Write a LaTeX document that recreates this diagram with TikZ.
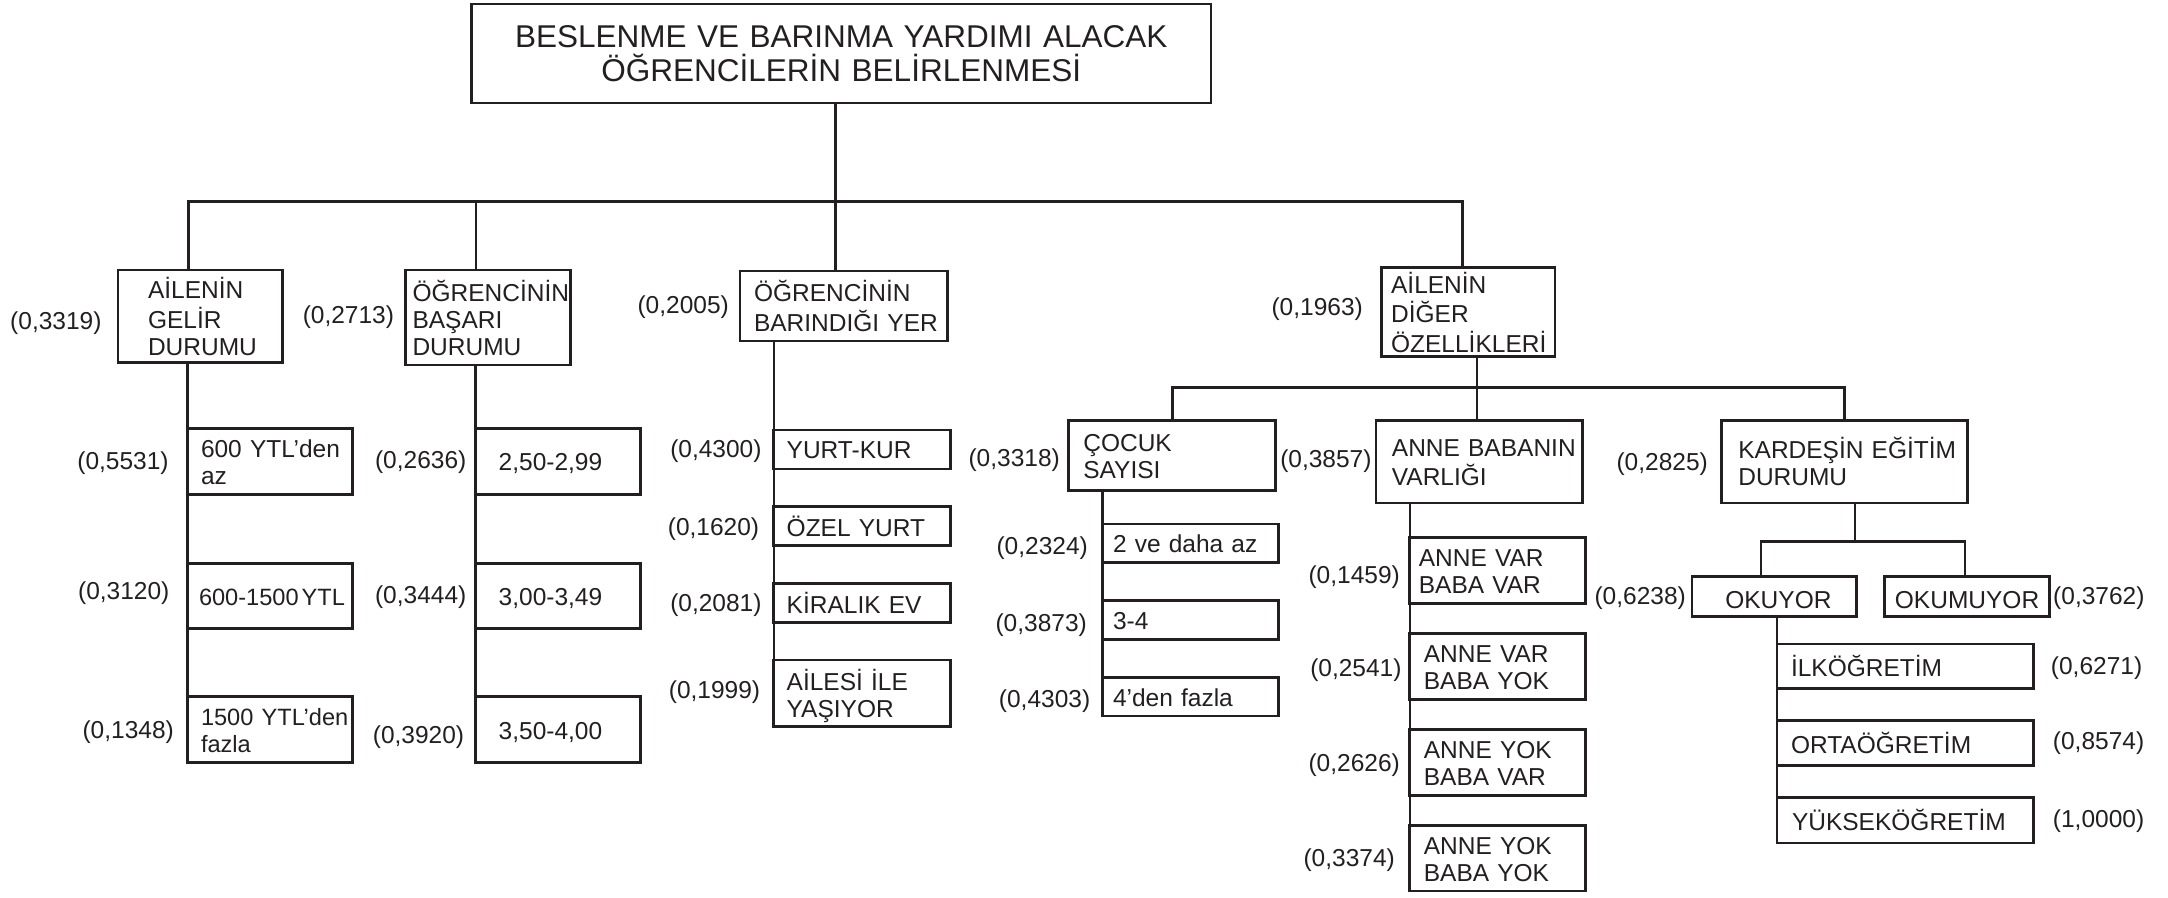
\documentclass[tikz,border=0pt]{standalone}
\usepackage{fontspec}
\setmainfont{Liberation Sans}
\definecolor{ink}{RGB}{35,31,32}
\newcommand\lblfont{\fontsize{24.5}{27}\selectfont}
\newcommand\smfont{\fontsize{23.6}{27}\selectfont}
\newcommand\ttlfont{\fontsize{31.5}{34}\selectfont}
\tikzset{
  box/.style={draw=ink, line width=2.8pt, rectangle, anchor=north west, inner ysep=0pt,
    outer sep=0pt, align=left, font=\lblfont, text=ink},
  lab/.style={inner sep=0pt, font=\lblfont, text=ink},
  conn/.style={draw=ink, line width=2.2pt},
  busl/.style={draw=ink, line width=3pt, line join=miter},
}
% \bx{name}{x}{y}{w}{h}{pad}{text}
\newcommand\bx[7]{\node[box, minimum width=#4pt, minimum height=#5pt, inner xsep=#6pt,
  text width=#4pt-2*#6pt] (#1) at (#2,#3)
  {\raisebox{-4pt}[\height][\depth]{\begin{tabular}{@{}l@{}}#7\end{tabular}}};}
\begin{document}
\begin{tikzpicture}[x=1pt,y=-1pt]
\useasboundingbox (0,0) rectangle (2168,897);

% title
\node[box, align=center, font=\ttlfont, minimum width=739.5pt, minimum height=99pt,
  text width=719.5pt, inner xsep=10pt] (title) at (471.5,4)
  {BESLENME VE BARINMA YARDIMI ALACAK\\ÖĞRENCİLERİN BELİRLENMESİ};

% level 1
\bx{gelir}{118}{270}{164.7}{92.7}{30}{AİLENİN\\GELİR\\DURUMU}
\bx{basari}{405.5}{270}{164.8}{95}{7}{ÖĞRENCİNİN\\BAŞARI\\DURUMU}
\bx{barin}{740}{271}{207.8}{70}{14}{ÖĞRENCİNİN\\BARINDIĞI YER}
\bx{diger}{1381.6}{267.7}{173.4}{89}{9.5}{AİLENİN\\DİĞER\\ÖZELLİKLERİ}

% gelir children
\bx{g1}{187.5}{428.3}{165.2}{66}{13.5}{600 YTL’den\\az}
\bx{g2}{187.5}{563.3}{165.2}{65}{11.5}{\smfont 600-1500\kern3pt YTL}
\bx{g3}{187.5}{696.7}{165.2}{66}{13.5}{\smfont 1500 YTL’den\\\smfont fazla}
% basari children
\bx{s1}{475.4}{428.3}{165.2}{66}{23.3}{2,50-2,99}
\bx{s2}{475.4}{563.3}{165.2}{65}{23.3}{3,00-3,49}
\bx{s3}{475.4}{696.7}{165.2}{66}{23.3}{3,50-4,00}
% barin children
\bx{r1}{773.7}{430}{176.5}{39}{13}{YURT-KUR}
\bx{r2}{773.7}{506.7}{176.5}{39}{13}{ÖZEL YURT}
\bx{r3}{773.7}{583.3}{176.5}{39}{13}{KİRALIK EV}
\bx{r4}{773.7}{660}{176.5}{66.7}{13}{AİLESİ İLE\\YAŞIYOR}

% diger children
\bx{cocuk}{1068.3}{420.7}{207.4}{70}{15}{ÇOCUK\\SAYISI}
\bx{anne}{1375.9}{420.7}{206.7}{82.3}{16}{ANNE BABANIN\\VARLIĞI}
\bx{kardes}{1721.3}{420.7}{246}{82.3}{17}{KARDEŞİN EĞİTİM\\DURUMU}

\bx{c1}{1102.4}{524}{176}{38.7}{10.6}{2 ve daha az}
\bx{c2}{1102.4}{600.7}{176}{38.6}{10.6}{3-4}
\bx{c3}{1102.4}{677.3}{176}{38.7}{10.6}{4’den fazla}

\bx{a1}{1409.8}{537.5}{175.7}{66}{9}{ANNE VAR\\BABA VAR}
\bx{a2}{1409.8}{633.7}{175.7}{66}{14}{ANNE VAR\\BABA YOK}
\bx{a3}{1409.8}{729.4}{175.7}{66}{14}{ANNE YOK\\BABA VAR}
\bx{a4}{1409.8}{825.5}{175.7}{65.5}{14}{ANNE YOK\\BABA YOK}

\node[box, align=center, minimum width=164.8pt, minimum height=40pt, text width=150pt,
  inner xsep=7.4pt] (okuyor) at (1692,576.7)
  {\raisebox{-3pt}[\height][\depth]{\hspace*{8pt}OKUYOR}};
\node[box, align=center, minimum width=165.5pt, minimum height=40pt, text width=155pt,
  inner xsep=5.25pt] (okumuyor) at (1884.3,576.7)
  {\raisebox{-3pt}[\height][\depth]{OKUMUYOR}};

\bx{k1}{1777}{644}{256.4}{44.7}{14}{İLKÖĞRETİM}
\bx{k2}{1777}{720.5}{256.4}{45.2}{14}{ORTAÖĞRETİM}
\bx{k3}{1777}{797.5}{256.4}{45.5}{15}{YÜKSEKÖĞRETİM}

% labels
\node[lab, anchor=east] (lgelir) at (101.7,323.3) {(0,3319)};
\node[lab, anchor=east] (lbasari) at (394.2,316.7) {(0,2713)};
\node[lab, anchor=east] (lbarin) at (729,306.7) {(0,2005)};
\node[lab, anchor=east] (ldiger) at (1363,309) {(0,1963)};

\node[lab, anchor=east] (lg1) at (168.8,463.3) {(0,5531)};
\node[lab, anchor=east] (lg2) at (169.6,593.3) {(0,3120)};
\node[lab, anchor=east] (lg3) at (174,731.7) {(0,1348)};
\node[lab, anchor=east] (ls1) at (466.5,461.7) {(0,2636)};
\node[lab, anchor=east] (ls2) at (466.5,596.7) {(0,3444)};
\node[lab, anchor=east] (ls3) at (464.3,736.7) {(0,3920)};
\node[lab, anchor=east] (lr1) at (761.7,451) {(0,4300)};
\node[lab, anchor=east] (lr2) at (759.3,529.3) {(0,1620)};
\node[lab, anchor=east] (lr3) at (761.7,605) {(0,2081)};
\node[lab, anchor=east] (lr4) at (760.3,691.7) {(0,1999)};

\node[lab, anchor=east] (lcocuk) at (1060,460) {(0,3318)};
\node[lab, anchor=east] (lanne) at (1371.7,461) {(0,3857)};
\node[lab, anchor=east] (lkardes) at (1708,464) {(0,2825)};
\node[lab, anchor=east] (lc1) at (1088,547.7) {(0,2324)};
\node[lab, anchor=east] (lc2) at (1087,625) {(0,3873)};
\node[lab, anchor=east] (lc3) at (1090.4,700.7) {(0,4303)};
\node[lab, anchor=east] (la1) at (1400,576.7) {(0,1459)};
\node[lab, anchor=east] (la2) at (1401.7,670) {(0,2541)};
\node[lab, anchor=east] (la3) at (1400,765) {(0,2626)};
\node[lab, anchor=east] (la4) at (1395,860) {(0,3374)};
\node[lab, anchor=east] (lokuyor) at (1686,598) {(0,6238)};
\node[lab, anchor=west] (lokumuyor) at (2053,598) {(0,3762)};
\node[lab, anchor=west] (lk1) at (2050.7,668.3) {(0,6271)};
\node[lab, anchor=west] (lk2) at (2052.7,743.3) {(0,8574)};
\node[lab, anchor=west] (lk3) at (2052.7,820.7) {(1,0000)};

% connectors
\coordinate (bL) at (188,201);
\coordinate (bS) at (475.6,201);
\coordinate (bT) at (835.5,201);
\coordinate (bR) at (1462,201);
\draw[busl] (bL |- gelir.north) -- (bL) -- (bR) -- (bR |- diger.north);
\draw[conn] (title.south -| bT) -- (bT) -- (bT |- barin.north);
\draw[conn] (bS) -- (bS |- basari.north);

\draw[conn] (gelir.south -| g1.west) -- (g3.south west);
\draw[conn] (basari.south -| s1.west) -- (s3.south west);
\draw[conn] (barin.south -| r1.west) -- (r4.south west);

\coordinate (dm) at (1477,387.5);
\draw[conn] (diger.south -| dm) -- (anne.north -| dm);
\draw[busl] (cocuk.north) -- (cocuk.north |- dm) -- (kardes.north |- dm) -- (kardes.north);

\draw[conn] (cocuk.south -| c1.west) -- (c3.south west);
\draw[conn] (anne.south -| a1.west) -- (a4.south west);

\coordinate (km) at (1855,541.5);
\coordinate (kl) at (1761,541.5);
\coordinate (kr) at (1965,541.5);
\draw[conn] (kardes.south -| km) -- (km);
\draw[conn] (okuyor.north -| kl) -- (kl) -- (kr) -- (okumuyor.north -| kr);
\draw[conn] (okuyor.south -| k1.west) -- (k3.south west);
\end{tikzpicture}
\end{document}
